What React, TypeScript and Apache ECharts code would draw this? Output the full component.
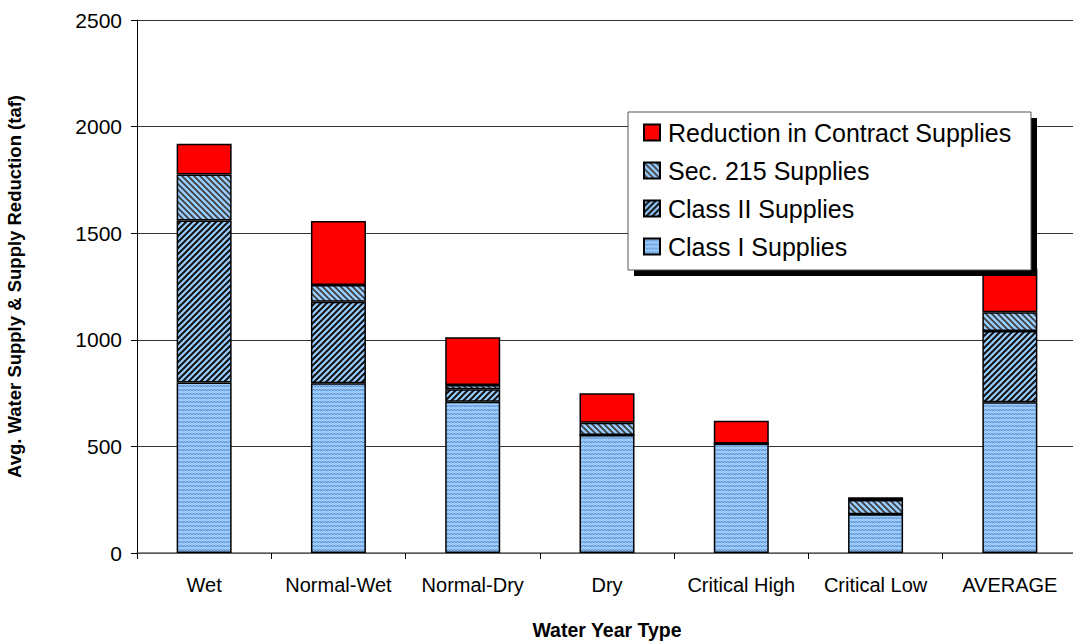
import React, { useEffect, useRef } from "react";
import * as echarts from "echarts";

const categories = ["Wet", "Normal-Wet", "Normal-Dry", "Dry", "Critical High", "Critical Low", "AVERAGE"];
const classI = [800, 796, 710, 553, 514, 182, 707];
const classII = [760, 383, 58, 0, 0, 0, 334];
const sec215 = [215, 78, 20, 58, 0, 67, 88];
const reduction = [145, 300, 224, 138, 106, 12, 205];
const yTicks = [0, 500, 1000, 1500, 2000, 2500];

const seriesNames = ["Class I Supplies", "Class II Supplies", "Sec. 215 Supplies", "Reduction in Contract Supplies"];
const legendOrder = ["Reduction in Contract Supplies", "Sec. 215 Supplies", "Class II Supplies", "Class I Supplies"];

function makePattern(kind: string): any {
  const size = 6;
  const h = kind === "zig" ? 4 : 6;
  const c = document.createElement("canvas");
  c.width = size;
  c.height = h;
  const ctx = c.getContext("2d")!;
  ctx.fillStyle = "#99CCFF";
  ctx.fillRect(0, 0, size, h);
  if (kind === "zig") {
    ctx.strokeStyle = "#5f86bf";
    ctx.lineWidth = 0.9;
    ctx.beginPath();
    ctx.moveTo(0, 3);
    ctx.lineTo(1.5, 1);
    ctx.lineTo(3, 3);
    ctx.lineTo(4.5, 1);
    ctx.lineTo(6, 3);
    ctx.stroke();
  } else if (kind === "fwd") {
    ctx.strokeStyle = "#111";
    ctx.lineWidth = 2;
    ctx.beginPath();
    ctx.moveTo(-1, 7);
    ctx.lineTo(7, -1);
    ctx.moveTo(-4, 4);
    ctx.lineTo(4, -4);
    ctx.moveTo(2, 10);
    ctx.lineTo(10, 2);
    ctx.stroke();
  } else {
    ctx.strokeStyle = "#3a3a3a";
    ctx.lineWidth = 1.6;
    ctx.beginPath();
    ctx.moveTo(-1, -1);
    ctx.lineTo(7, 7);
    ctx.moveTo(-4, 2);
    ctx.lineTo(4, 10);
    ctx.moveTo(2, -4);
    ctx.lineTo(10, 4);
    ctx.stroke();
  }
  return { image: c.toDataURL(), repeat: "repeat", imageWidth: size, imageHeight: h };
}

export default function App() {
  const ref = useRef<HTMLDivElement>(null);
  useEffect(() => {
    if (!ref.current) return;
    const chart = echarts.init(ref.current, undefined, { renderer: "svg" });
    const colors = [makePattern("zig"), makePattern("fwd"), makePattern("back"), "#FF0000"];
    const datas = [classI, classII, sec215, reduction];
    const font = "Liberation Sans, Arial, sans-serif";
    const option: any = {
      animation: false,
      backgroundColor: "#ffffff",
      textStyle: { fontFamily: font },
      grid: { left: 137, right: -4, top: 20, bottom: 91, containLabel: false, outerBoundsMode: "none" },
      legend: {
        orient: "vertical",
        left: 638,
        top: 115,
        data: legendOrder,
        itemWidth: 16,
        itemHeight: 16,
        itemGap: 13,
        selectedMode: false,
        icon: "rect",
        textStyle: { fontSize: 25, lineHeight: 25, color: "#000", fontFamily: font, padding: [0, 0, 0, 3] },
        z: 10,
      },
      graphic: [
        { type: "rect", z: 8, shape: { x: 634, y: 118, width: 403, height: 158 }, style: { fill: "#000" } },
        { type: "rect", z: 9, shape: { x: 628, y: 112, width: 403, height: 158 }, style: { fill: "#fff", stroke: "#555", lineWidth: 1 } },
      ],
      xAxis: {
        type: "category",
        data: categories,
        name: "Water Year Type",
        nameLocation: "middle",
        nameGap: 67,
        nameTextStyle: { fontSize: 19.5, fontWeight: "bold", color: "#000", fontFamily: font },
        axisLine: { lineStyle: { color: "#666", width: 1.5 } },
        axisTick: { show: true, length: 6, lineStyle: { color: "#000" } },
        axisLabel: { fontSize: 20, color: "#000", margin: 22, interval: 0, hideOverlap: false, fontFamily: font },
      },
      yAxis: {
        type: "value",
        min: 0,
        max: 2500,
        interval: 500,
        name: "Avg. Water Supply & Supply Reduction (taf)",
        nameLocation: "middle",
        nameGap: 113,
        nameTextStyle: { fontSize: 18.5, fontWeight: "bold", color: "#000", fontFamily: font },
        axisLine: { show: true, lineStyle: { color: "#000", width: 1 } },
        axisTick: { show: true, length: 6, lineStyle: { color: "#000" } },
        axisLabel: { fontSize: 21, color: "#000", margin: 15, fontFamily: font, formatter: (v: number) => (yTicks.includes(v) ? String(v) : "") },
        splitLine: { show: true, lineStyle: { color: "#333", width: 1 } },
      },
      series: seriesNames.map((n, i) => ({
        name: n,
        type: "bar",
        stack: "total",
        barWidth: 55,
        data: datas[i],
        itemStyle: { color: colors[i], borderColor: "#000", borderWidth: 1.5 },
      })),
    };
    chart.setOption(option);
    return () => chart.dispose();
  }, []);
  return <div ref={ref} style={{ position: "fixed", left: 0, top: 0, width: 1073, height: 644 }} />;
}
